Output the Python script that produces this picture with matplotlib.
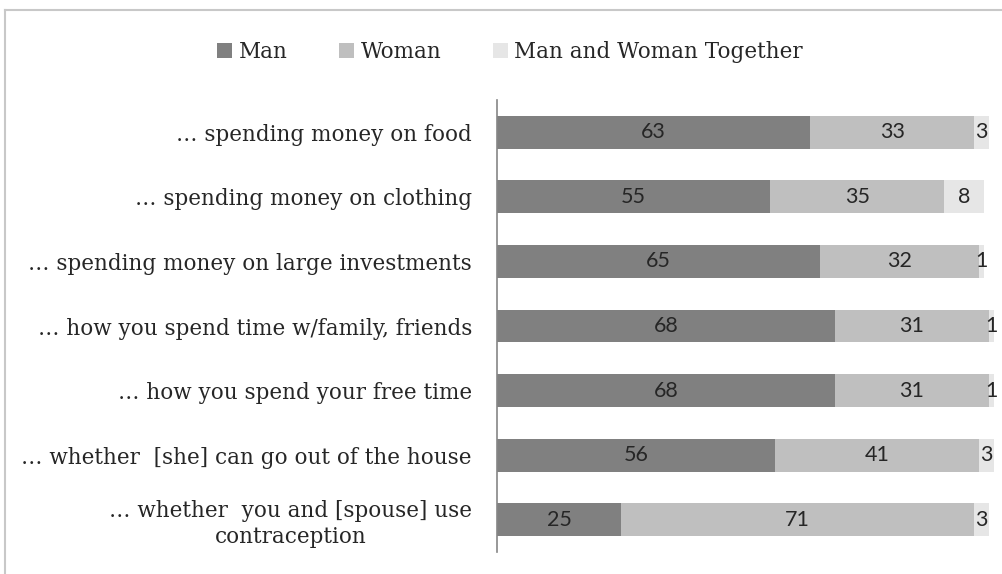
import matplotlib.pyplot as plt
from matplotlib.lines import Line2D
import numpy as np

questions = [
    "\u2026 spending money on food",
    "\u2026 spending money on clothing",
    "\u2026 spending money on large investments",
    "\u2026 how you spend time w/family, friends",
    "\u2026 how you spend your free time",
    "\u2026 whether  [she] can go out of the house",
    "\u2026 whether  you and [spouse] use\ncontraception",
]
man = [63, 55, 65, 68, 68, 56, 25]
woman = [33, 35, 32, 31, 31, 41, 71]
together = [3, 8, 1, 1, 1, 3, 3]

series = ["Man", "Woman", "Man and Woman Together"]
colors = ["#808080", "#bfbfbf", "#e6e6e6"]

W, H = 1003, 574
fig = plt.figure(figsize=(W / 100, H / 100), dpi=100)
ax = fig.add_axes([497 / W, 1 - 552 / H, (994 - 497) / W, (552 - 100) / H])

label_font = "DejaVu Serif"
num_font = "Lato"

y = np.arange(len(questions))
left = np.zeros(len(questions))
for name, vals, c in zip(series, [man, woman, together], colors):
    vals = np.array(vals, dtype=float)
    bars = ax.barh(y, vals, left=left, height=0.51, color=c, label=name)
    for yi, l, v in zip(y, left, vals):
        ax.text(l + v / 2, yi, "%d" % v, ha="center", va="center",
                fontsize=15.5, family=num_font, color="#262626")
    left += vals

ax.set_xlim(0, 100)
ax.set_ylim(len(questions) - 0.5, -0.5)
ax.set_yticks(y)
ax.set_yticklabels(questions, family=label_font, fontsize=15.5,
                   color="#262626", multialignment="center")
ax.tick_params(axis="y", length=0, pad=18)
ax.set_xticks([])
for s in ["top", "right", "bottom"]:
    ax.spines[s].set_visible(False)
ax.spines["left"].set_color("#868686")
ax.spines["left"].set_linewidth(1.2)

fig.legend(loc="center", bbox_to_anchor=(510 / W, 1 - 52 / H), ncol=3,
           frameon=False, prop={"family": label_font, "size": 15.5},
           handlelength=0.7, handleheight=0.7, handletextpad=0.3,
           columnspacing=2.4, labelcolor="#262626")

# chart border
fig.add_artist(Line2D([5 / W, 5 / W], [0, 1 - 10 / H], transform=fig.transFigure,
                      color="#c8c8c8", lw=1.5))
fig.add_artist(Line2D([5 / W, 1], [1 - 10 / H, 1 - 10 / H], transform=fig.transFigure,
                      color="#c8c8c8", lw=1.5))

fig.savefig("out.png", dpi=100)
